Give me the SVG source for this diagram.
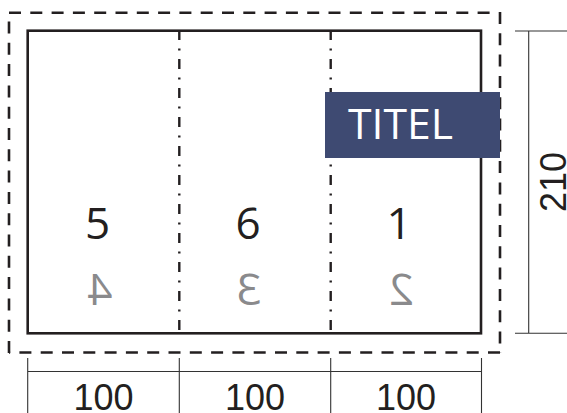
<svg xmlns="http://www.w3.org/2000/svg" width="567" height="413" viewBox="0 0 567 413">
<style>
.bleed{fill:none;stroke:#231f20;stroke-width:2.6;stroke-dasharray:12 9.3}
.trim{fill:none;stroke:#231f20;stroke-width:2.6}
.fold{fill:none;stroke:#231f20;stroke-width:2.4;stroke-dasharray:10 8.5 2 8.5}
.dim{fill:none;stroke:#333;stroke-width:1.1}
.num{font-family:"Open Sans","DejaVu Sans",sans-serif;font-size:44px;text-anchor:middle;fill:#231f20}
.mir{font-family:"Open Sans","DejaVu Sans",sans-serif;font-size:44px;text-anchor:middle;fill:#8a8a8c}
.dimt{font-family:"Liberation Sans",Arial,sans-serif;font-size:36px;text-anchor:middle;fill:#231f20}
</style>
<rect width="567" height="413" fill="#fff"/>
<g id="bleed">
<path class="bleed" d="M9,12.7 H492"/>
<path class="bleed" d="M500,12 V353"/>
<path class="bleed" d="M500,352.5 H9"/>
<path class="bleed" d="M9,353 V20"/>
</g>
<g id="sheet">
<rect class="trim" x="27.7" y="30.7" width="453.3" height="302.6"/>
</g>
<g id="folds">
<path class="fold" d="M179.3,30 V333"/>
<path class="fold" d="M330.7,30 V333"/>
</g>
<g id="panel-left">
<text class="num" x="97.5" y="238.5">5</text>
<text class="mir" transform="translate(100,305) scale(-1,1)" x="0" y="0">4</text>
</g>
<g id="panel-middle">
<text class="num" x="248" y="238.5">6</text>
<text class="mir" transform="translate(249,305) scale(-1,1)" x="0" y="0">3</text>
</g>
<g id="panel-right">
<text class="num" x="399" y="238.5">1</text>
<text class="mir" transform="translate(401.5,305) scale(-1,1)" x="0" y="0">2</text>
</g>
<g id="title">
<rect x="325" y="92" width="175" height="66" fill="#3e4a72"/>
<text x="348" y="138.5" font-family="'Open Sans','DejaVu Sans',sans-serif" font-size="42" fill="#fff" textLength="105" lengthAdjust="spacingAndGlyphs">TITEL</text>
</g>
<g id="dimensions">
<path class="dim" d="M515,31 H567 M528.7,31 V333.3 M515,333.3 H567"/>
<text class="dimt" transform="translate(565.5,182) rotate(-90)" x="0" y="0">210</text>
<path class="dim" d="M27.7,358 V413 M179.3,358 V413 M330.7,358 V413 M481.5,358 V413 M27.7,371.5 H481.5"/>
<text class="dimt" x="103.5" y="410">100</text>
<text class="dimt" x="255" y="410">100</text>
<text class="dimt" x="406" y="410">100</text>
</g>
</svg>
